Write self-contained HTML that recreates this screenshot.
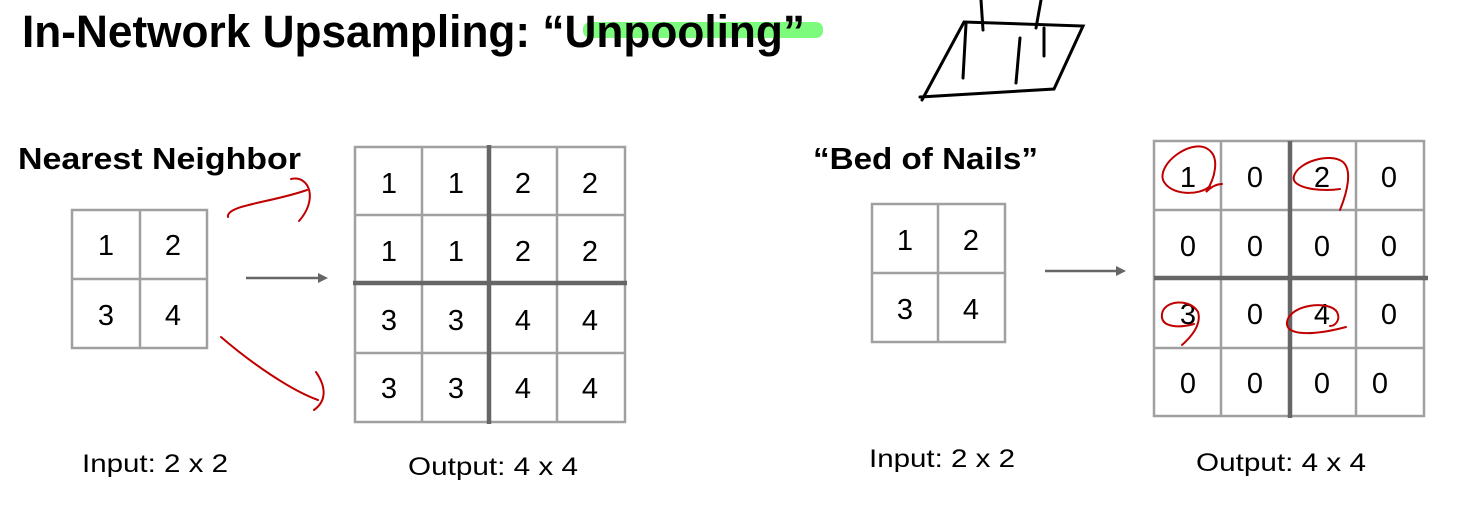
<!DOCTYPE html>
<html><head><meta charset="utf-8"><style>
html,body{margin:0;padding:0;background:#fff;}
svg{display:block;}
text{font-family:"Liberation Sans",sans-serif;}
</style></head><body>
<svg width="1461" height="518" viewBox="0 0 1461 518" xmlns="http://www.w3.org/2000/svg">
<rect width="1461" height="518" fill="#fff"/>
<rect x="583" y="22" width="240" height="16" rx="7" fill="#7dfb7d"/>
<text x="22" y="47" font-size="45" font-weight="bold" textLength="783" lengthAdjust="spacingAndGlyphs" fill="#000">In-Network Upsampling: “Unpooling”</text>
<g stroke="#000" stroke-width="3" fill="none" stroke-linecap="round">
<path d="M922 100 L964 22 L1083 26 L1054 89 L920 97"/>
<path d="M983 30 L981 0"/><path d="M1036 28 L1041 0"/>
<path d="M966 24 L963 78"/><path d="M1020 38 L1016 83"/><path d="M1044 28 L1044 56"/>
</g>
<text x="18" y="169" font-size="31" font-weight="bold" textLength="283" lengthAdjust="spacingAndGlyphs">Nearest Neighbor</text>
<text x="813" y="169" font-size="31" font-weight="bold" textLength="225" lengthAdjust="spacingAndGlyphs">“Bed of Nails”</text>
<g stroke="#a0a0a0" stroke-width="2.5" fill="none">
<rect x="72" y="210" width="135" height="138"/><line x1="140" y1="210" x2="140" y2="348"/><line x1="72" y1="279" x2="207" y2="279"/>
<rect x="355" y="147" width="270" height="275"/>
<line x1="422" y1="147" x2="422" y2="422"/><line x1="557" y1="147" x2="557" y2="422"/>
<line x1="355" y1="215" x2="625" y2="215"/><line x1="355" y1="353" x2="625" y2="353"/>
<rect x="872" y="204" width="133" height="138"/><line x1="938" y1="204" x2="938" y2="342"/><line x1="872" y1="273" x2="1005" y2="273"/>
<rect x="1154" y="141" width="270" height="275"/>
<line x1="1221" y1="141" x2="1221" y2="416"/><line x1="1356" y1="141" x2="1356" y2="416"/>
<line x1="1154" y1="210" x2="1424" y2="210"/><line x1="1154" y1="348" x2="1424" y2="348"/>
</g>
<g stroke="#666" stroke-width="4.5">
<line x1="489" y1="145" x2="489" y2="424"/><line x1="353" y1="283" x2="627" y2="283"/>
<line x1="1290" y1="141" x2="1290" y2="418"/><line x1="1154" y1="278" x2="1428" y2="278"/>
</g>
<g stroke="#666" stroke-width="2.5"><line x1="246" y1="278" x2="320" y2="278"/><line x1="1045" y1="271" x2="1118" y2="271"/></g>
<path d="M318 273 L328 278 L318 283Z" fill="#666"/><path d="M1116 266 L1126 271 L1116 276Z" fill="#666"/>
<g font-size="29" text-anchor="middle" fill="#000">
<text x="106" y="255">1</text><text x="173" y="255">2</text><text x="106" y="325">3</text><text x="173" y="325">4</text>
<text x="389" y="193">1</text><text x="456" y="193">1</text><text x="523" y="193">2</text><text x="590" y="193">2</text>
<text x="389" y="261">1</text><text x="456" y="261">1</text><text x="523" y="261">2</text><text x="590" y="261">2</text>
<text x="389" y="330">3</text><text x="456" y="330">3</text><text x="523" y="330">4</text><text x="590" y="330">4</text>
<text x="389" y="398">3</text><text x="456" y="398">3</text><text x="523" y="398">4</text><text x="590" y="398">4</text>
<text x="905" y="250">1</text><text x="971" y="250">2</text><text x="905" y="319">3</text><text x="971" y="319">4</text>
<text x="1188" y="187">1</text><text x="1255" y="187">0</text><text x="1322" y="187">2</text><text x="1389" y="187">0</text>
<text x="1188" y="256">0</text><text x="1255" y="256">0</text><text x="1322" y="256">0</text><text x="1389" y="256">0</text>
<text x="1188" y="324">3</text><text x="1255" y="324">0</text><text x="1322" y="324">4</text><text x="1389" y="324">0</text>
<text x="1188" y="393">0</text><text x="1255" y="393">0</text><text x="1322" y="393">0</text><text x="1380" y="393">0</text>
</g>
<g font-size="25" fill="#000">
<text x="82" y="472" textLength="146" lengthAdjust="spacingAndGlyphs">Input: 2 x 2</text>
<text x="408" y="475" textLength="170" lengthAdjust="spacingAndGlyphs">Output: 4 x 4</text>
<text x="869" y="467" textLength="146" lengthAdjust="spacingAndGlyphs">Input: 2 x 2</text>
<text x="1196" y="471" textLength="170" lengthAdjust="spacingAndGlyphs">Output: 4 x 4</text>
</g>
<g stroke="#c00000" stroke-width="2" fill="none" stroke-linecap="round">
<path d="M228 217 C226 205 270 203 307 190"/>
<path d="M291 179 C310 175 318 200 299 221"/>
<path d="M221 337 C250 362 290 390 318 400"/>
<path d="M316 372 C325 385 328 400 314 410"/>
<path d="M1210 186 C1200 196 1170 196 1163 180 C1158 163 1190 140 1206 148 C1222 156 1214 180 1206 192 C1212 186 1218 184 1222 184"/>
<path d="M1340 189 C1320 192 1290 188 1294 176 C1298 162 1330 152 1343 162 C1352 170 1348 190 1340 210"/>
<path d="M1194 324 C1180 328 1160 328 1162 314 C1164 300 1190 298 1198 312 C1202 325 1190 338 1182 345"/>
<path d="M1346 327 C1320 334 1285 338 1287 322 C1290 304 1330 300 1337 312 C1341 320 1335 326 1330 326"/>
</g>
</svg>
</body></html>
